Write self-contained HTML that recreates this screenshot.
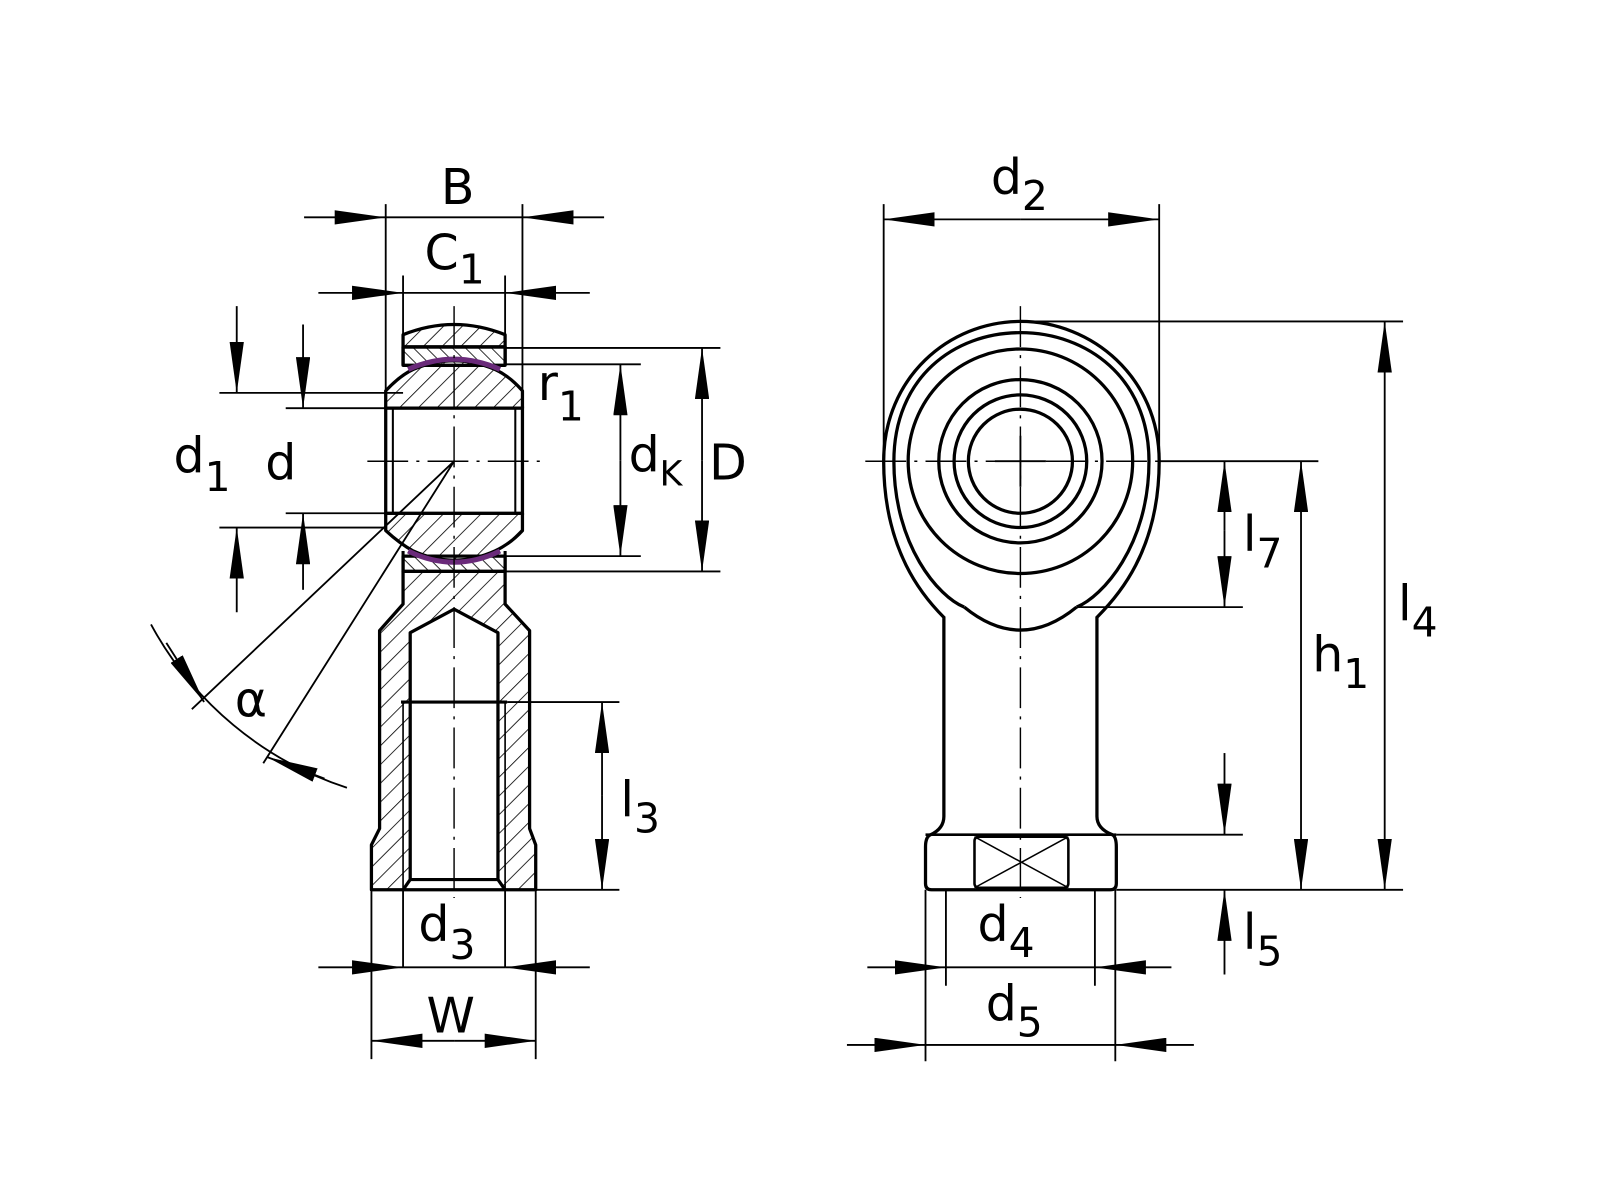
<!DOCTYPE html>
<html><head><meta charset="utf-8"><style>
html,body{margin:0;padding:0;background:#fff;width:1600px;height:1200px;overflow:hidden}
svg{display:block}
text{font-family:"DejaVu Sans","Liberation Sans",sans-serif;fill:#000}
</style></head><body>
<svg width="1600" height="1200" viewBox="0 0 1568 1176" xmlns="http://www.w3.org/2000/svg">
<defs>
<pattern id="h1" width="13" height="13" patternUnits="userSpaceOnUse" patternTransform="rotate(45)">
<line x1="0" y1="0" x2="0" y2="13" stroke="#000" stroke-width="1.6"/></pattern>
<pattern id="h2" width="9" height="9" patternUnits="userSpaceOnUse" patternTransform="rotate(-45)">
<line x1="0" y1="0" x2="0" y2="9" stroke="#000" stroke-width="1.6"/></pattern>
<marker id="a" viewBox="0 0 50 14" refX="50" refY="7" markerWidth="50" markerHeight="14" markerUnits="userSpaceOnUse" orient="auto"><path d="M0,0 L50,7 L0,14 Z" fill="#000"/></marker>
</defs>
<rect width="1568" height="1176" fill="#fff"/>

<!-- LEFT VIEW -->
<g stroke="#000" stroke-width="3.2" stroke-linejoin="round" fill="url(#h1)">
<path d="M395,340 L395,328 Q445,308 495,328 L495,340 Z"/>
<path d="M395,340 L495,340 L495,358 L395,358 Z" fill="url(#h2)"/>
<path d="M378,400 L378,383 Q392,368 405,362 Q445,345 485,362 Q500,369 512,383 L512,400 Z"/>
<path d="M378,503 L378,520 Q392,533 405,540 Q445,558 485,540 Q500,533 512,520 L512,503 Z"/>
<path d="M395,545 L495,545 L495,560 L395,560 Z" fill="url(#h2)"/>
<path fill-rule="evenodd" d="M395,560 L395,592 L372,618 L372,812 L364,828 L364,872 L525,872 L525,828 L519,812 L519,618 L495,592 L495,560 Z M395,872 L402,862 L402,620 L445,597 L488,620 L488,862 L495,872 Z"/>
</g>
<g stroke="#000" fill="none">
<path d="M395,358 L395,340 M495,358 L495,340" stroke-width="3.2"/>
<rect x="378" y="400" width="134" height="103" fill="#fff" stroke-width="3.2"/>
<path d="M385,400 V503 M505,400 V503" stroke-width="2"/>
<path d="M395,540 V560 M495,540 V560" stroke-width="3"/>
<path d="M400,362 Q445,342 490,362" stroke="#6a2a7a" stroke-width="5"/>
<path d="M400,540 Q445,562 490,540" stroke="#6a2a7a" stroke-width="5"/>
<path d="M402,862 H488" stroke-width="3"/>
<path d="M393,688 H497" stroke-width="3"/>
<path d="M395,688 V872 M495,688 V872" stroke-width="1.6"/>
<path d="M445,300 V880" stroke-width="1.4" stroke-dasharray="40,8,3,8"/>
<path d="M360,452 H530" stroke-width="1.4" stroke-dasharray="40,8,3,8"/>
<g stroke-width="1.8">
<path d="M378,200 V395 M512,200 V395"/>
<path d="M298,213 H378" marker-end="url(#a)"/><path d="M592,213 H512" marker-end="url(#a)"/>
<path d="M378,213 H512"/>
<path d="M395,270 V330 M495,270 V330"/>
<path d="M312,287 H395" marker-end="url(#a)"/><path d="M578,287 H495" marker-end="url(#a)"/>
<path d="M395,287 H495"/>
<path d="M215,385 H395 M215,517 H378"/>
<path d="M232,300 V385" marker-end="url(#a)"/><path d="M232,600 V517" marker-end="url(#a)"/>
<path d="M280,400 H378 M280,503 H378"/>
<path d="M297,318 V400" marker-end="url(#a)"/><path d="M297,578 V503" marker-end="url(#a)"/>
<path d="M495,357 H628 M495,545 H628"/>
<path d="M608,451 V357" marker-end="url(#a)"/><path d="M608,451 V545" marker-end="url(#a)"/>
<path d="M495,341 H706 M495,560 H706"/>
<path d="M688,451 V341" marker-end="url(#a)"/><path d="M688,451 V560" marker-end="url(#a)"/>
<path d="M445,452 L188,695 M445,452 L258,748"/>
<path d="M148,612 A337,337 0 0,0 340,772"/>
<path d="M163,630 L200,688" marker-end="url(#a)"/>
<path d="M318,763 L262,742" marker-end="url(#a)"/>
<path d="M497,688 H607 M525,872 H607"/>
<path d="M590,780 V688" marker-end="url(#a)"/><path d="M590,780 V872" marker-end="url(#a)"/>
<path d="M395,872 V948 M495,872 V948"/>
<path d="M312,948 H395" marker-end="url(#a)"/><path d="M578,948 H495" marker-end="url(#a)"/>
<path d="M395,948 H495"/>
<path d="M364,872 V1038 M525,872 V1038"/>
<path d="M445,1020 H364" marker-end="url(#a)"/><path d="M445,1020 H525" marker-end="url(#a)"/>
</g>
</g>
<g font-size="48">
<text x="432" y="200">B</text>
<text x="416" y="264">C<tspan font-size="40" dy="14">1</tspan></text>
<text x="170" y="463">d<tspan font-size="40" dy="18">1</tspan></text>
<text x="260" y="470">d</text>
<text x="527" y="392">r<tspan font-size="40" dy="20">1</tspan></text>
<text x="616" y="462">d<tspan font-size="34" dy="14">K</tspan></text>
<text x="695" y="470">D</text>
<text x="230" y="702" font-family="Liberation Serif,serif">α</text>
<text x="608" y="800">l<tspan font-size="40" dy="16">3</tspan></text>
<text x="410" y="922">d<tspan font-size="40" dy="18">3</tspan></text>
<text x="418" y="1012">W</text>
</g>

<!-- RIGHT VIEW -->
<g stroke="#000" fill="none" stroke-width="3.2">
<path d="M925,605 C905,585 866,540 866,452 C866,370 930,315 1000,315 C1070,315 1136,370 1136,452 C1136,540 1095,585 1075,605 L1075,800 Q1075,812 1090,818 Q1094,820 1094,830 L1094,866 Q1094,872 1088,872 L913,872 Q907,872 907,866 L907,830 Q907,820 912,818 Q925,812 925,800 Z" fill="#fff"/>
<path d="M945,595 C920,585 876,535 876,452 C876,370 935,326 1000,326 C1065,326 1126,370 1126,452 C1126,535 1080,585 1055,595"/>
<path d="M945,595 Q1000,640 1055,595"/>
<circle cx="1000" cy="452" r="110"/>
<circle cx="1000" cy="452" r="80"/>
<circle cx="1000" cy="452" r="65"/>
<circle cx="1000" cy="452" r="51"/>
<path d="M907,818 H1094" stroke-width="2.5"/>
<rect x="955" y="820" width="92" height="50" rx="4" stroke-width="2.5"/>
<path d="M955,820 L1047,870 M1047,820 L955,870" stroke-width="1.5"/>
</g>
<g stroke="#000" fill="none" stroke-width="1.4">
<path d="M1000,300 V880" stroke-dasharray="40,8,3,8"/>
<path d="M848,452 H1150" stroke-dasharray="40,8,3,8"/>
<path d="M975,452 H1025 M1000,427 V477" stroke-width="1.8"/>
</g>
<g stroke="#000" fill="none" stroke-width="1.8">
<path d="M866,200 V452 M1136,200 V452"/>
<path d="M1000,215 H866" marker-end="url(#a)"/><path d="M1000,215 H1136" marker-end="url(#a)"/>
<path d="M1000,315 H1375 M1094,872 H1375"/>
<path d="M1357,590 V315" marker-end="url(#a)"/><path d="M1357,590 V872" marker-end="url(#a)"/>
<path d="M1136,452 H1292"/>
<path d="M1275,660 V452" marker-end="url(#a)"/><path d="M1275,660 V872" marker-end="url(#a)"/>
<path d="M1055,595 H1218"/>
<path d="M1200,520 V452" marker-end="url(#a)"/><path d="M1200,520 V595" marker-end="url(#a)"/>
<path d="M1094,818 H1218"/>
<path d="M1200,738 V818" marker-end="url(#a)"/><path d="M1200,955 V872" marker-end="url(#a)"/>
<path d="M927,872 V966 M1073,872 V966"/>
<path d="M850,948 H927" marker-end="url(#a)"/><path d="M1148,948 H1073" marker-end="url(#a)"/>
<path d="M927,948 H1073"/>
<path d="M907,872 V1040 M1093,872 V1040"/>
<path d="M830,1024 H907" marker-end="url(#a)"/><path d="M1170,1024 H1093" marker-end="url(#a)"/>
<path d="M907,1024 H1093"/>
</g>
<g font-size="48">
<text x="971" y="190">d<tspan font-size="40" dy="16">2</tspan></text>
<text x="1370" y="608">l<tspan font-size="40" dy="16">4</tspan></text>
<text x="1286" y="658">h<tspan font-size="40" dy="16">1</tspan></text>
<text x="1218" y="540">l<tspan font-size="40" dy="16">7</tspan></text>
<text x="1218" y="930">l<tspan font-size="40" dy="16">5</tspan></text>
<text x="958" y="922">d<tspan font-size="40" dy="16">4</tspan></text>
<text x="966" y="1000">d<tspan font-size="40" dy="16">5</tspan></text>
</g>
</svg>
</body></html>
